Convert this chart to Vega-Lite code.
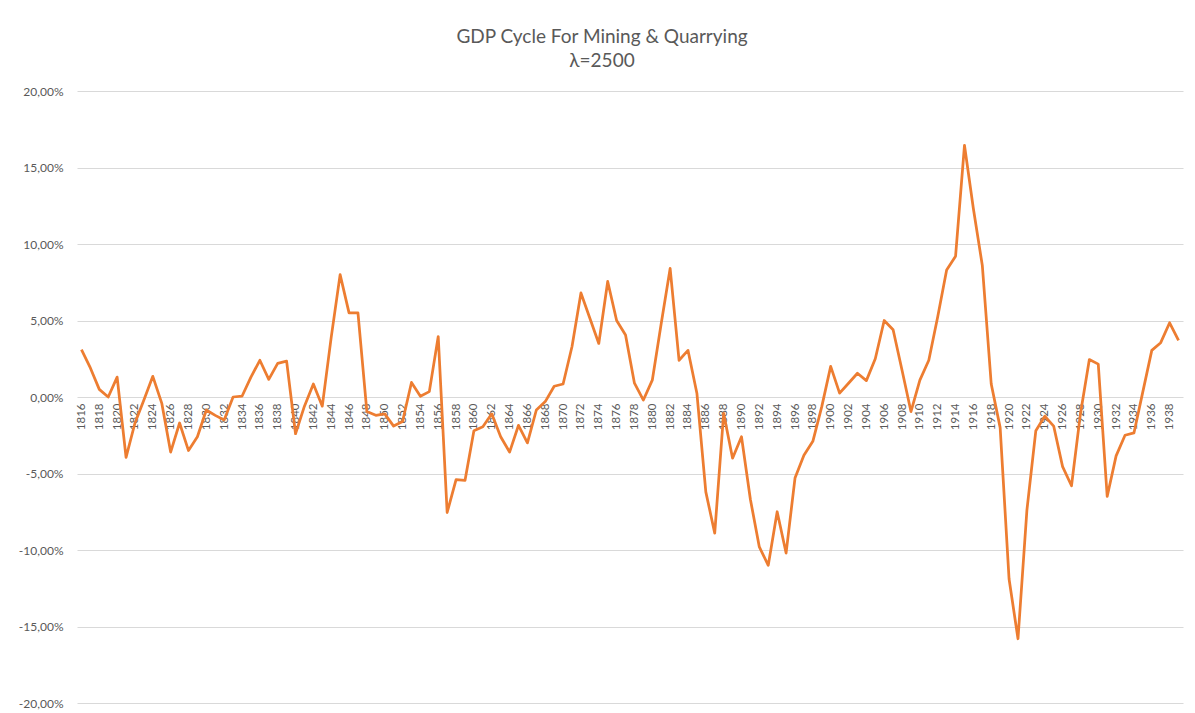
{
  "$schema": "https://vega.github.io/schema/vega-lite/v6.json",
  "width": 1106,
  "height": 612,
  "autosize": "none",
  "padding": {"left": 77, "top": 91, "right": 12, "bottom": 10},
  "background": "white",
  "title": {
    "text": ["GDP Cycle For Mining & Quarrying", "λ=2500"],
    "font": "Lato",
    "fontSize": 19,
    "fontWeight": "normal",
    "color": "#595959",
    "lineHeight": 24,
    "anchor": "middle",
    "dx": -28,
    "offset": 14
  },
  "config": {"view": {"stroke": null}},
  "data": {
    "values": [
      {"year": 1816, "cycle": 0.031}, {"year": 1817, "cycle": 0.019}, {"year": 1818, "cycle": 0.005}, {"year": 1819, "cycle": 0.000},
      {"year": 1820, "cycle": 0.013}, {"year": 1821, "cycle": -0.0395}, {"year": 1822, "cycle": -0.017}, {"year": 1823, "cycle": -0.002},
      {"year": 1824, "cycle": 0.0135}, {"year": 1825, "cycle": -0.004}, {"year": 1826, "cycle": -0.036}, {"year": 1827, "cycle": -0.017},
      {"year": 1828, "cycle": -0.035}, {"year": 1829, "cycle": -0.026}, {"year": 1830, "cycle": -0.0085}, {"year": 1831, "cycle": -0.012},
      {"year": 1832, "cycle": -0.015}, {"year": 1833, "cycle": 0.000}, {"year": 1834, "cycle": 0.0005}, {"year": 1835, "cycle": 0.013},
      {"year": 1836, "cycle": 0.024}, {"year": 1837, "cycle": 0.0115}, {"year": 1838, "cycle": 0.022}, {"year": 1839, "cycle": 0.0235},
      {"year": 1840, "cycle": -0.024}, {"year": 1841, "cycle": -0.006}, {"year": 1842, "cycle": 0.0085}, {"year": 1843, "cycle": -0.006},
      {"year": 1844, "cycle": 0.039}, {"year": 1845, "cycle": 0.080}, {"year": 1846, "cycle": 0.055}, {"year": 1847, "cycle": 0.055},
      {"year": 1848, "cycle": -0.0095}, {"year": 1849, "cycle": -0.012}, {"year": 1850, "cycle": -0.011}, {"year": 1851, "cycle": -0.019},
      {"year": 1852, "cycle": -0.016}, {"year": 1853, "cycle": 0.0095}, {"year": 1854, "cycle": 0.0005}, {"year": 1855, "cycle": 0.0035},
      {"year": 1856, "cycle": 0.0395}, {"year": 1857, "cycle": -0.0755}, {"year": 1858, "cycle": -0.054}, {"year": 1859, "cycle": -0.0545},
      {"year": 1860, "cycle": -0.022}, {"year": 1861, "cycle": -0.0195}, {"year": 1862, "cycle": -0.011}, {"year": 1863, "cycle": -0.026},
      {"year": 1864, "cycle": -0.036}, {"year": 1865, "cycle": -0.0185}, {"year": 1866, "cycle": -0.030}, {"year": 1867, "cycle": -0.0085},
      {"year": 1868, "cycle": -0.003}, {"year": 1869, "cycle": 0.007}, {"year": 1870, "cycle": 0.0085}, {"year": 1871, "cycle": 0.033},
      {"year": 1872, "cycle": 0.068}, {"year": 1873, "cycle": 0.0515}, {"year": 1874, "cycle": 0.035}, {"year": 1875, "cycle": 0.0755},
      {"year": 1876, "cycle": 0.050}, {"year": 1877, "cycle": 0.0405}, {"year": 1878, "cycle": 0.009}, {"year": 1879, "cycle": -0.002},
      {"year": 1880, "cycle": 0.011}, {"year": 1881, "cycle": 0.048}, {"year": 1882, "cycle": 0.084}, {"year": 1883, "cycle": 0.024},
      {"year": 1884, "cycle": 0.0305}, {"year": 1885, "cycle": 0.0025}, {"year": 1886, "cycle": -0.062}, {"year": 1887, "cycle": -0.089},
      {"year": 1888, "cycle": -0.0107}, {"year": 1889, "cycle": -0.040}, {"year": 1890, "cycle": -0.026}, {"year": 1891, "cycle": -0.067},
      {"year": 1892, "cycle": -0.098}, {"year": 1893, "cycle": -0.110}, {"year": 1894, "cycle": -0.075}, {"year": 1895, "cycle": -0.102},
      {"year": 1896, "cycle": -0.053}, {"year": 1897, "cycle": -0.038}, {"year": 1898, "cycle": -0.029}, {"year": 1899, "cycle": -0.0063},
      {"year": 1900, "cycle": 0.020}, {"year": 1901, "cycle": 0.0025}, {"year": 1902, "cycle": 0.009}, {"year": 1903, "cycle": 0.0155},
      {"year": 1904, "cycle": 0.0107}, {"year": 1905, "cycle": 0.025}, {"year": 1906, "cycle": 0.050}, {"year": 1907, "cycle": 0.044},
      {"year": 1908, "cycle": 0.0175}, {"year": 1909, "cycle": -0.0095}, {"year": 1910, "cycle": 0.011}, {"year": 1911, "cycle": 0.024},
      {"year": 1912, "cycle": 0.0525}, {"year": 1913, "cycle": 0.083}, {"year": 1914, "cycle": 0.092}, {"year": 1915, "cycle": 0.1645},
      {"year": 1916, "cycle": 0.123}, {"year": 1917, "cycle": 0.086}, {"year": 1918, "cycle": 0.0085}, {"year": 1919, "cycle": -0.020},
      {"year": 1920, "cycle": -0.119}, {"year": 1921, "cycle": -0.158}, {"year": 1922, "cycle": -0.074}, {"year": 1923, "cycle": -0.022},
      {"year": 1924, "cycle": -0.0125}, {"year": 1925, "cycle": -0.019}, {"year": 1926, "cycle": -0.0455}, {"year": 1927, "cycle": -0.058},
      {"year": 1928, "cycle": -0.011}, {"year": 1929, "cycle": 0.0245}, {"year": 1930, "cycle": 0.0215}, {"year": 1931, "cycle": -0.065},
      {"year": 1932, "cycle": -0.0385}, {"year": 1933, "cycle": -0.025}, {"year": 1934, "cycle": -0.0235}, {"year": 1935, "cycle": 0.0035},
      {"year": 1936, "cycle": 0.0305}, {"year": 1937, "cycle": 0.0355}, {"year": 1938, "cycle": 0.0485}, {"year": 1939, "cycle": 0.037}
    ]
  },
  "mark": {"type": "line", "color": "#ED7D31", "strokeWidth": 2.75, "strokeJoin": "round"},
  "encoding": {
    "x": {
      "field": "year",
      "type": "ordinal",
      "sort": "ascending",
      "scale": {"type": "point", "padding": 0.5},
      "axis": {
        "title": null,
        "offset": -306,
        "domain": false,
        "ticks": false,
        "grid": false,
        "labelAngle": -90,
        "labelAlign": "right",
        "labelBaseline": "middle",
        "labelPadding": 6,
        "labelFont": "Lato",
        "labelFontSize": 11.5,
        "labelColor": "#595959",
        "labelOverlap": false,
        "labelExpr": "datum.value % 2 == 0 ? datum.label : ''"
      }
    },
    "y": {
      "field": "cycle",
      "type": "quantitative",
      "scale": {"domain": [-0.2, 0.2], "nice": false, "zero": false},
      "axis": {
        "title": null,
        "values": [-0.2, -0.15, -0.1, -0.05, 0, 0.05, 0.1, 0.15, 0.2],
        "domain": false,
        "ticks": false,
        "grid": true,
        "gridColor": "#d9d9d9",
        "gridWidth": 1,
        "labelPadding": 14,
        "labelFont": "Lato",
        "labelFontSize": 12,
        "labelColor": "#595959",
        "labelExpr": "replace(replace(format(datum.value, '.2%'), '.', ','), '−', '-')"
      }
    }
  }
}
